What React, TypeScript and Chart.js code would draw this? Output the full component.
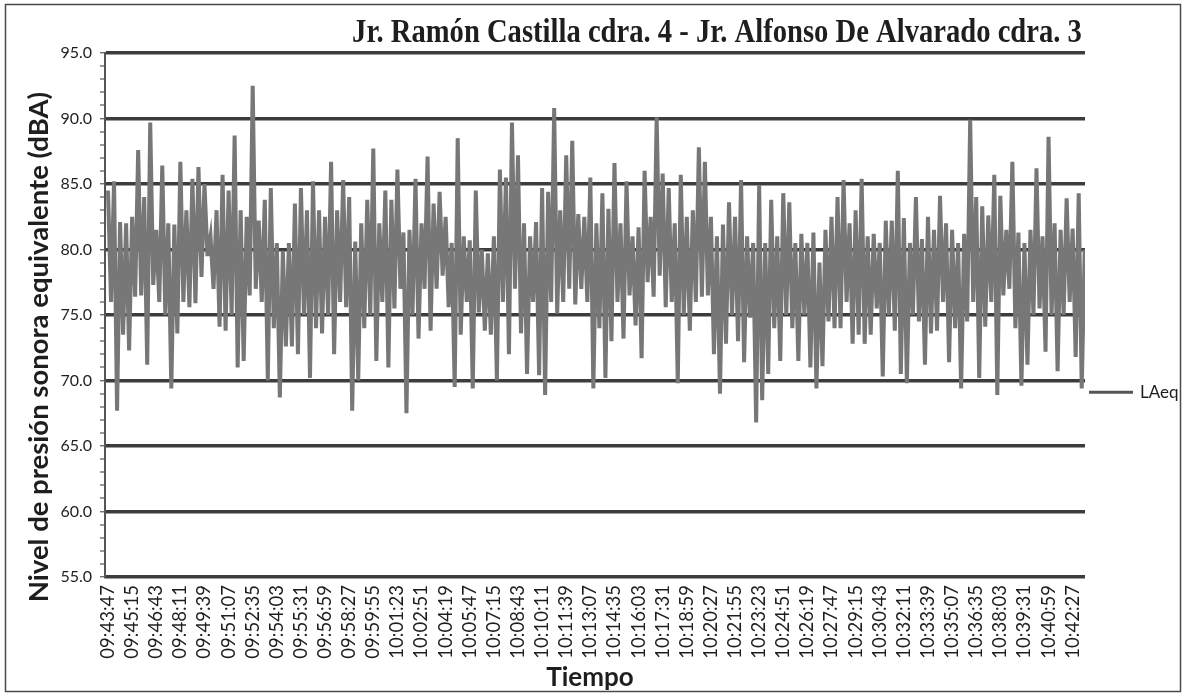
import React, { useEffect, useRef } from "react";
import { Chart, registerables } from "chart.js";

Chart.register(...registerables);

const TITLE = "Jr. Ramón Castilla cdra. 4 - Jr. Alfonso De Alvarado cdra. 3";
const Y_TITLE = "Nivel de presión sonora equivalente (dBA)";
const X_TITLE = "Tiempo";
const SERIES_LABEL = "LAeq";

const timeLabels = [
  "09:43:47", "09:45:15", "09:46:43", "09:48:11", "09:49:39", "09:51:07", "09:52:35",
  "09:54:03", "09:55:31", "09:56:59", "09:58:27", "09:59:55", "10:01:23", "10:02:51",
  "10:04:19", "10:05:47", "10:07:15", "10:08:43", "10:10:11", "10:11:39", "10:13:07",
  "10:14:35", "10:16:03", "10:17:31", "10:18:59", "10:20:27", "10:21:55", "10:23:23",
  "10:24:51", "10:26:19", "10:27:47", "10:29:15", "10:30:43", "10:32:11", "10:33:39",
  "10:35:07", "10:36:35", "10:38:03", "10:39:31", "10:40:59", "10:42:27",
];
const LABEL_STEP_S = 88; // seconds between labelled categories
const SAMPLE_STEP_S = 22; // seconds between read-off samples
const X_MIN_S = -11;
const X_MAX_S = 3565;

const Y_MIN = 55;
const Y_MAX = 95;
const LEGEND_LEVEL = 69.1;

// local maxima, one per 22 s window
const peaks = [
  84.5, 85.2, 82.1, 82.0, 82.5, 87.6, 84.0, 89.7, 81.5, 86.4,
  82.0, 81.9, 86.7, 83.0, 85.4, 86.3, 85.0, 81.0, 83.0, 85.7,
  84.5, 88.7, 83.0, 82.5, 92.5, 82.2, 83.8, 84.7, 80.5, 79.9,
  80.5, 83.5, 84.7, 83.0, 85.2, 83.0, 82.5, 86.7, 83.0, 85.3,
  84.0, 80.6, 82.0, 83.8, 87.7, 82.0, 84.5, 83.8, 86.1, 81.3,
  81.5, 85.4, 82.0, 87.1, 83.5, 84.4, 82.5, 80.5, 88.5, 81.0,
  80.7, 84.5, 80.0, 79.7, 81.0, 86.1, 85.5, 89.7, 87.2, 82.0,
  81.0, 82.1, 84.7, 84.4, 90.8, 83.0, 87.2, 88.3, 82.7, 82.5,
  85.5, 82.0, 84.3, 83.1, 86.6, 82.0, 85.2, 81.0, 81.7, 86.0,
  82.5, 90.1, 85.8, 84.7, 82.0, 85.7, 82.5, 83.0, 87.8, 86.7,
  82.5, 81.0, 81.9, 83.6, 82.5, 85.3, 81.0, 80.5, 84.9, 80.5,
  83.8, 81.0, 84.3, 83.6, 80.5, 81.2, 80.5, 81.3, 79.0, 81.5,
  82.5, 84.0, 85.3, 82.0, 83.0, 85.4, 81.0, 81.2, 80.5, 82.2,
  82.2, 86.0, 82.4, 80.5, 84.0, 80.8, 82.5, 81.5, 84.1, 82.0,
  81.5, 80.5, 81.2, 89.9, 84.0, 83.3, 82.6, 85.7, 84.1, 81.5,
  86.7, 81.3, 80.5, 81.5, 86.2, 81.0, 88.6, 82.0, 81.5, 83.9,
  81.6, 84.3, 80.0,
];

// local minima, 11 s after each peak
const troughs = [
  76.0, 67.7, 73.5, 72.3, 76.4, 76.5, 71.2, 77.3, 76.0, 75.0,
  69.4, 73.6, 76.0, 75.6, 75.9, 77.9, 79.5, 77.0, 74.1, 73.8,
  75.0, 71.0, 71.5, 76.5, 77.0, 76.0, 70.0, 74.0, 68.7, 72.6,
  72.6, 72.0, 75.0, 70.2, 74.0, 73.6, 75.0, 72.0, 76.0, 75.6,
  67.7, 70.0, 74.0, 75.0, 71.5, 76.0, 71.0, 75.5, 77.0, 67.5,
  75.0, 73.2, 77.0, 73.8, 77.0, 78.0, 75.6, 69.5, 73.5, 76.0,
  69.4, 75.2, 73.8, 73.5, 70.0, 76.0, 72.0, 77.0, 73.6, 70.5,
  76.0, 70.4, 68.9, 76.0, 75.1, 76.0, 77.0, 75.8, 77.0, 76.0,
  69.4, 74.0, 70.2, 73.0, 76.0, 73.2, 76.5, 74.2, 71.7, 77.5,
  76.4, 78.0, 75.6, 76.0, 69.8, 75.0, 73.8, 76.0, 76.4, 76.5,
  72.0, 69.0, 72.8, 75.0, 73.0, 71.4, 74.8, 66.8, 68.5, 70.5,
  74.0, 71.5, 75.0, 74.0, 71.5, 75.0, 71.0, 69.4, 71.1, 74.5,
  74.0, 74.0, 76.0, 72.8, 73.5, 72.8, 73.5, 75.5, 70.3, 75.0,
  73.8, 70.5, 69.8, 75.0, 74.5, 71.2, 73.6, 73.8, 76.0, 71.4,
  74.0, 69.4, 74.5, 76.0, 70.2, 74.1, 76.0, 68.9, 76.5, 77.0,
  74.0, 69.6, 71.2, 75.0, 75.5, 72.2, 75.0, 70.7, 75.0, 76.0,
  71.8, 69.4, 73.5,
];

const LINE_COLOR = "#777777";
const GRID_COLOR = "#3c3c3c";
const TEXT_COLOR = "#1e1e1e";

const decorPlugin = {
  id: "decor",
  afterDraw(chart: any) {
    const ctx: CanvasRenderingContext2D = chart.ctx;
    const area = chart.chartArea;
    const W = chart.width;
    const H = chart.height;
    ctx.save();
    // outer frame of the figure
    ctx.strokeStyle = "#4a4a4a";
    ctx.lineWidth = 1.5;
    ctx.strokeRect(5.5, 4.5, W - 11, H - 9);

    // title, fitted to its printed width
    ctx.fillStyle = TEXT_COLOR;
    ctx.font = 'bold 100px "Liberation Serif", serif';
    const w100 = ctx.measureText(TITLE).width;
    const size = (100 * 730) / w100;
    ctx.save();
    ctx.translate(717, 42);
    ctx.scale(1, 1.18);
    ctx.font = `bold ${size.toFixed(2)}px "Liberation Serif", serif`;
    ctx.textAlign = "center";
    ctx.textBaseline = "alphabetic";
    ctx.fillText(TITLE, 0, 0);
    ctx.restore();

    // y title
    ctx.save();
    ctx.translate(39, 347);
    ctx.rotate(-Math.PI / 2);
    ctx.font = 'bold 27.5px Lato, "Open Sans", sans-serif';
    ctx.textAlign = "center";
    ctx.textBaseline = "middle";
    ctx.fillText(Y_TITLE, 0, 0);
    ctx.restore();

    // x title
    ctx.font = 'bold 26px Lato, "Open Sans", sans-serif';
    ctx.textAlign = "center";
    ctx.textBaseline = "alphabetic";
    ctx.fillText(X_TITLE, 590, 686);

    // legend
    const ly = chart.scales.y.getPixelForValue(LEGEND_LEVEL);
    ctx.strokeStyle = "#555";
    ctx.lineWidth = 3;
    ctx.beginPath();
    ctx.moveTo(area.right + 4, ly);
    ctx.lineTo(area.right + 48, ly);
    ctx.stroke();
    ctx.font = '17px Lato, "Open Sans", sans-serif';
    ctx.textAlign = "left";
    ctx.textBaseline = "middle";
    ctx.fillText(SERIES_LABEL, area.right + 55, ly);
    ctx.restore();
  },
};

export default function App() {
  const canvasRef = useRef<HTMLCanvasElement | null>(null);

  useEffect(() => {
    if (!canvasRef.current) return;
    const points = peaks.flatMap((p, i) => [
      { x: i * SAMPLE_STEP_S, y: p },
      { x: i * SAMPLE_STEP_S + SAMPLE_STEP_S / 2, y: troughs[i] },
    ]);

    const chart = new Chart(canvasRef.current, {
      type: "line",
      data: {
        datasets: [
          {
            label: SERIES_LABEL,
            data: points,
            borderColor: LINE_COLOR,
            borderWidth: 4,
            borderJoinStyle: "miter",
            pointRadius: 0,
            tension: 0,
            fill: false,
          },
        ],
      },
      options: {
        animation: false,
        responsive: true,
        maintainAspectRatio: false,
        layout: { padding: { left: 45, right: 101, top: 53, bottom: 19 } },
        plugins: {
          legend: { display: false },
          title: { display: false },
          tooltip: { enabled: false },
        },
        scales: {
          x: {
            type: "linear",
            min: X_MIN_S,
            max: X_MAX_S,
            afterBuildTicks: (scale: any) => {
              scale.ticks = timeLabels.map((_, i) => ({ value: i * LABEL_STEP_S }));
            },
            afterFit: (scale: any) => {
              scale.height = 100;
            },
            grid: { display: false, drawTicks: false },
            border: { display: false },
            ticks: {
              autoSkip: false,
              maxRotation: 90,
              minRotation: 90,
              padding: 8,
              color: TEXT_COLOR,
              font: { family: 'Lato, "Open Sans", sans-serif', size: 18.5 },
              callback: (_v: any, index: number) => timeLabels[index],
            },
          },
          y: {
            min: Y_MIN,
            max: Y_MAX,
            afterFit: (scale: any) => {
              scale.width = 60;
            },
            grid: {
              color: GRID_COLOR,
              lineWidth: (c: any) => (c.tick && c.tick.value % 5 === 0 ? 3.5 : 0),
              drawTicks: true,
              tickLength: 5,
              tickWidth: 1.2,
              tickColor: "#555",
            },
            border: { display: true, color: "#555", width: 2 },
            ticks: {
              stepSize: 1,
              autoSkip: false,
              padding: 8,
              color: TEXT_COLOR,
              font: { family: 'Lato, "Open Sans", sans-serif', size: 16 },
              callback: (v: any) => (Number(v) % 5 === 0 ? Number(v).toFixed(1) : ""),
            },
          },
        },
      },
      plugins: [decorPlugin],
    });
    return () => chart.destroy();
  }, []);

  return (
    <div
      style={{
        position: "fixed",
        left: 0,
        top: 0,
        width: 1186,
        height: 696,
        background: "#ffffff",
      }}
    >
      <canvas ref={canvasRef} />
    </div>
  );
}
